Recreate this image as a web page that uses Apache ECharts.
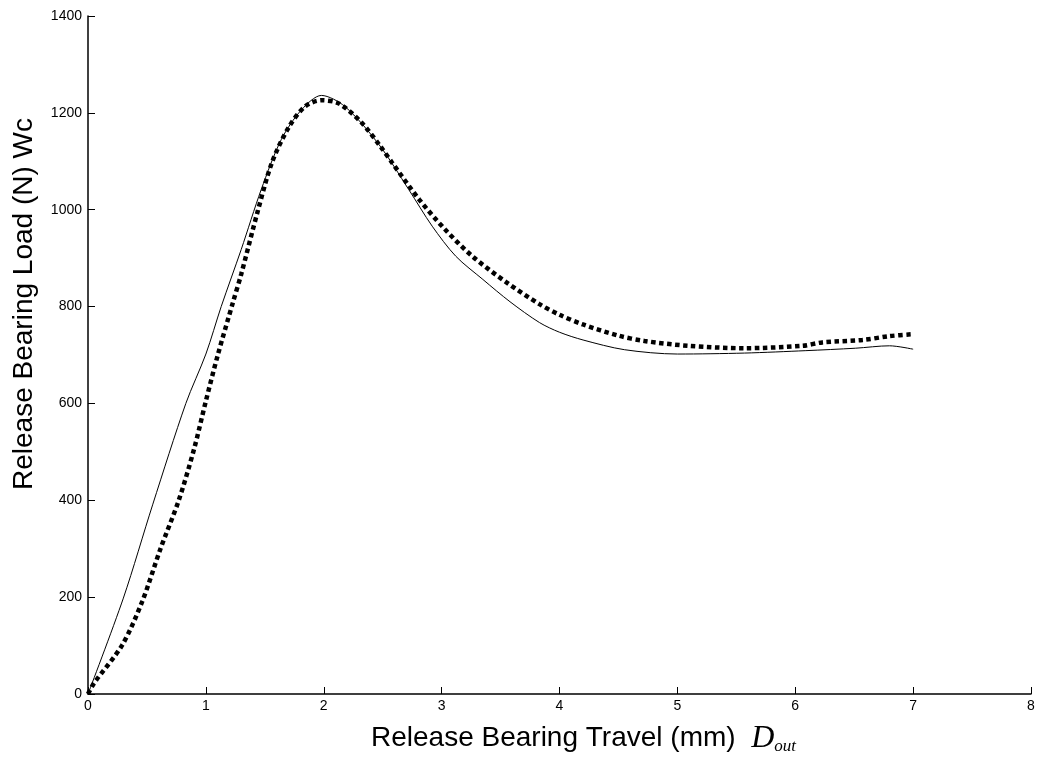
<!DOCTYPE html>
<html>
<head>
<meta charset="utf-8">
<script src="https://cdn.jsdelivr.net/npm/echarts@6/dist/echarts.min.js"></script>
<style>html,body{margin:0;padding:0;background:#fff;}#c{width:1040px;height:760px;}</style>
</head>
<body>
<div id="c"></div>
<script>
// Solid curve (x in mm, y in N)
const solidX = [0, 0.3, 0.55, 0.83, 1.0, 1.13, 1.30, 1.47, 1.64, 1.81, 1.98, 2.18, 2.47, 2.72, 2.92, 3.12, 3.35, 3.58, 3.83, 4.0, 4.2, 4.55, 5.0, 5.57, 6.09, 6.51, 6.8, 7.0];
const solidY = [0, 198, 392, 600, 702, 800, 918, 1042, 1145, 1206, 1236, 1213, 1134, 1042, 966, 904, 856, 810, 767, 747, 731, 711, 702, 704, 709, 714, 719, 712];
// Dotted curve
const dotX = [0, 0.05, 0.29, 0.46, 0.615, 0.77, 0.90, 1.0, 1.10, 1.23, 1.30, 1.44, 1.56, 1.70, 1.84, 1.98, 2.13, 2.32, 2.48, 2.58, 2.81, 3.03, 3.26, 3.55, 3.83, 4.0, 4.2, 4.5, 4.72, 5.09, 5.57, 6.06, 6.23, 6.57, 6.80, 7.0];
const dotY = [0, 22, 101, 191, 300, 400, 506, 605, 699, 809, 867, 997, 1097, 1169, 1213, 1226, 1219, 1180, 1131, 1097, 1021, 959, 904, 850, 805, 783, 763, 740, 729, 719, 714, 719, 726, 731, 739, 743];
const xTicks = [0, 1, 2, 3, 4, 5, 6, 7, 8];
const yTicks = [0, 200, 400, 600, 800, 1000, 1200, 1400];

const zip = (a, b) => a.map((v, i) => [v, b[i]]);
const chart = echarts.init(document.getElementById('c'), null, {renderer: 'canvas'});
const font = 'Liberation Sans, Arial, sans-serif';
const serif = 'Liberation Serif, Times New Roman, serif';
chart.setOption({
  backgroundColor: '#fff',
  animation: false,
  grid: {left: 88, right: 9, top: 16, bottom: 64, containLabel: false},
  xAxis: {
    type: 'value', min: xTicks[0], max: xTicks[xTicks.length - 1], interval: 1,
    axisLine: {onZero: false, lineStyle: {color: '#000', width: 1.5}},
    axisTick: {inside: true, length: 7, lineStyle: {color: '#000', width: 1}},
    axisLabel: {color: '#000', fontSize: 14, fontFamily: font, margin: 5, formatter: v => String(v)},
    splitLine: {show: false},
    name: 'Release Bearing Travel (mm)  {d|D}{s|out}',
    nameLocation: 'middle', nameGap: 28,
    nameTextStyle: {
      color: '#000', fontSize: 28, fontFamily: font, padding: [0, 0, 0, 48],
      rich: {
        d: {fontFamily: serif, fontStyle: 'italic', fontSize: 32, color: '#000'},
        s: {fontFamily: serif, fontStyle: 'italic', fontSize: 17, color: '#000', padding: [16, 0, 0, 0]}
      }
    }
  },
  yAxis: {
    type: 'value', min: yTicks[0], max: yTicks[yTicks.length - 1], interval: 200,
    axisLine: {onZero: false, lineStyle: {color: '#000', width: 1.5}},
    axisTick: {inside: true, length: 7, lineStyle: {color: '#000', width: 1}},
    axisLabel: {color: '#000', fontSize: 14, fontFamily: font, margin: 6, formatter: v => String(v)},
    splitLine: {show: false},
    name: 'Release Bearing Load (N) Wc',
    nameLocation: 'middle', nameGap: 50, nameRotate: 90,
    nameTextStyle: {color: '#000', fontSize: 28, fontFamily: font, padding: [0, 0, 0, 102]}
  },
  series: [
    {
      type: 'line', data: zip(solidX, solidY), showSymbol: false, smooth: 0.3,
      lineStyle: {color: '#000', width: 1}
    },
    {
      type: 'line', data: zip(dotX, dotY), showSymbol: false, smooth: 0.3,
      lineStyle: {color: '#000', width: 4.5, type: [4.5, 3.5], cap: 'butt'}
    }
  ]
});
</script>
</body>
</html>
